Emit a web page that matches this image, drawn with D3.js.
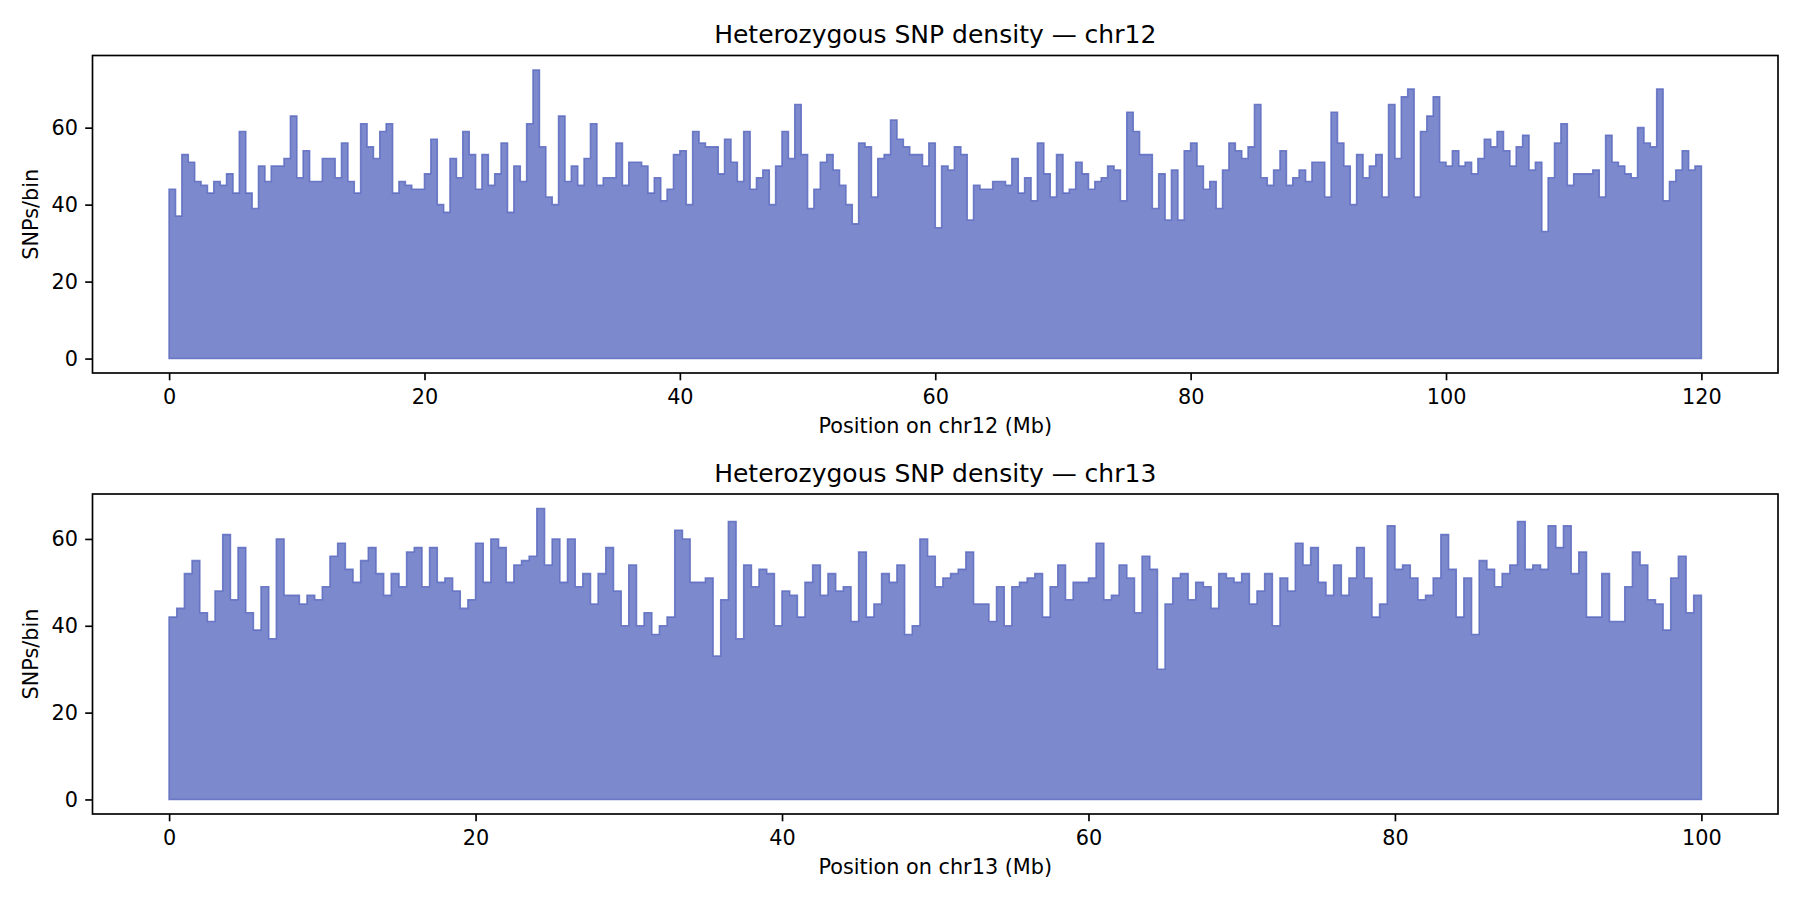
<!DOCTYPE html>
<html>
<head>
<meta charset="utf-8">
<script src="https://cdn.jsdelivr.net/npm/d3@7"></script>
<style>
  body { margin: 0; background: #fff; }
  svg { display: block; font-family: "DejaVu Sans", sans-serif; }
</style>
</head>
<body>
<svg id="chart" width="1800" height="900"></svg>
<script>
// SNPs per 0.5 Mb bin
const binSize = 0.5;

const chr12Density = [
  44, 37, 53, 51, 46, 45, 43, 46, 45, 48,
  43, 59, 43, 39, 50, 46, 50, 50, 52, 63,
  47, 54, 46, 46, 52, 52, 47, 56, 46, 43,
  61, 55, 52, 59, 61, 43, 46, 45, 44, 44,
  48, 57, 40, 38, 52, 47, 59, 53, 44, 53,
  45, 48, 56, 38, 50, 46, 61, 75, 55, 42,
  40, 63, 46, 50, 45, 52, 61, 45, 47, 47,
  56, 45, 51, 51, 50, 43, 47, 41, 44, 53,
  54, 40, 59, 56, 55, 55, 48, 57, 51, 46,
  59, 44, 47, 49, 40, 50, 59, 52, 66, 53,
  39, 44, 51, 53, 49, 45, 40, 35, 56, 55,
  42, 52, 53, 62, 57, 55, 53, 53, 50, 56,
  34, 50, 49, 55, 53, 36, 45, 44, 44, 46,
  46, 45, 52, 43, 47, 41, 56, 48, 42, 53,
  43, 44, 51, 48, 44, 46, 47, 50, 49, 41,
  64, 59, 53, 53, 39, 48, 36, 49, 36, 54,
  56, 50, 44, 46, 39, 49, 56, 54, 52, 55,
  66, 47, 45, 49, 54, 45, 47, 49, 46, 51,
  51, 42, 64, 56, 50, 40, 53, 47, 50, 53,
  42, 66, 52, 68, 70, 42, 59, 63, 68, 51,
  50, 54, 50, 51, 48, 52, 57, 55, 59, 54,
  50, 55, 58, 49, 51, 33, 47, 56, 61, 45,
  48, 48, 48, 49, 42, 58, 51, 50, 48, 47,
  60, 56, 55, 70, 41, 46, 49, 54, 49, 50
];

const chr13Density = [
  42, 44, 52, 55, 43, 41, 48, 61, 46, 58,
  43, 39, 49, 37, 60, 47, 47, 45, 47, 46,
  49, 56, 59, 53, 50, 55, 58, 52, 47, 52,
  49, 57, 58, 49, 58, 50, 51, 48, 44, 46,
  59, 50, 60, 58, 50, 54, 55, 56, 67, 54,
  60, 50, 60, 49, 52, 45, 52, 58, 48, 40,
  54, 40, 43, 38, 40, 42, 62, 60, 50, 50,
  51, 33, 46, 64, 37, 54, 49, 53, 52, 40,
  48, 47, 42, 50, 54, 47, 52, 48, 49, 41,
  57, 42, 45, 52, 50, 54, 38, 40, 60, 56,
  49, 51, 52, 53, 57, 45, 45, 41, 49, 40,
  49, 50, 51, 52, 42, 49, 54, 46, 50, 50,
  51, 59, 46, 47, 54, 51, 43, 56, 53, 30,
  45, 51, 52, 46, 50, 49, 44, 52, 51, 50,
  52, 45, 48, 52, 40, 51, 48, 59, 54, 58,
  50, 47, 54, 47, 51, 58, 51, 42, 45, 63,
  53, 54, 51, 46, 47, 51, 61, 53, 42, 51,
  38, 55, 53, 49, 52, 54, 64, 53, 54, 53,
  63, 58, 63, 52, 57, 42, 42, 52, 41, 41,
  49, 57, 54, 46, 45, 39, 51, 56, 43, 47
];

const chr12XTicks = [0, 20, 40, 60, 80, 100, 120];
const chr13XTicks = [0, 20, 40, 60, 80, 100];
const yTicks = [0, 20, 40, 60];

const svg = d3.select("#chart");
const left = 92.5, right = 1778;

function drawPanel(chrom, values, xTicks, top, bottom) {
  const g = svg.append("g");
  const xMax = values.length * binSize;
  const yMax = d3.max(values);

  // matplotlib-style 5% margins
  const x = d3.scaleLinear().domain([-0.05 * xMax, 1.05 * xMax]).range([left, right]);
  const y = d3.scaleLinear().domain([-0.05 * yMax, 1.05 * yMax]).range([bottom, top]);

  // step points: one per bin edge, last value repeated at the end
  const pts = values.map((v, i) => ({ pos: i * binSize, v }));
  pts.push({ pos: xMax, v: values[values.length - 1] });

  const area = d3.area()
    .x(d => x(d.pos))
    .y0(y(0))
    .y1(d => y(d.v))
    .curve(d3.curveStepAfter);

  g.append("path")
    .datum(pts)
    .attr("d", area)
    .attr("fill", "#5c6bc0")
    .attr("fill-opacity", 0.8)
    .attr("stroke", "#5c6bc0")
    .attr("stroke-opacity", 0.85)
    .attr("stroke-width", 1.6)
    .attr("stroke-linejoin", "miter");

  const xAxis = g.append("g")
    .attr("transform", `translate(0,${bottom})`)
    .call(d3.axisBottom(x).tickValues(xTicks).tickFormat(d3.format("d")).tickSize(7.3).tickPadding(7.3).tickSizeOuter(0));
  const yAxis = g.append("g")
    .attr("transform", `translate(${left},0)`)
    .call(d3.axisLeft(y).tickValues(yTicks).tickFormat(d3.format("d")).tickSize(7.3).tickPadding(7.3).tickSizeOuter(0));

  [xAxis, yAxis].forEach(a => {
    a.select(".domain").remove();
    a.selectAll(".tick line").attr("stroke", "#000").attr("stroke-width", 1.67);
    a.selectAll(".tick text").attr("fill", "#000").attr("font-size", 20.8).attr("font-family", "DejaVu Sans");
  });
  xAxis.selectAll(".tick text").attr("dy", "0.78em");

  // frame
  g.append("rect")
    .attr("x", left).attr("y", top)
    .attr("width", right - left).attr("height", bottom - top)
    .attr("fill", "none").attr("stroke", "#000").attr("stroke-width", 1.67);

  g.append("text")
    .attr("x", (left + right) / 2).attr("y", top - 12.5)
    .attr("text-anchor", "middle").attr("font-size", 25)
    .text(`Heterozygous SNP density \u2014 ${chrom}`);

  g.append("text")
    .attr("x", (left + right) / 2).attr("y", bottom + 60)
    .attr("text-anchor", "middle").attr("font-size", 20.8)
    .text(`Position on ${chrom} (Mb)`);

  g.append("text")
    .attr("transform", `translate(38,${(top + bottom) / 2}) rotate(-90)`)
    .attr("text-anchor", "middle").attr("font-size", 20.8)
    .text("SNPs/bin");
}

drawPanel("chr12", chr12Density, chr12XTicks, 55.5, 373);
drawPanel("chr13", chr13Density, chr13XTicks, 494, 814);
</script>
</body>
</html>
